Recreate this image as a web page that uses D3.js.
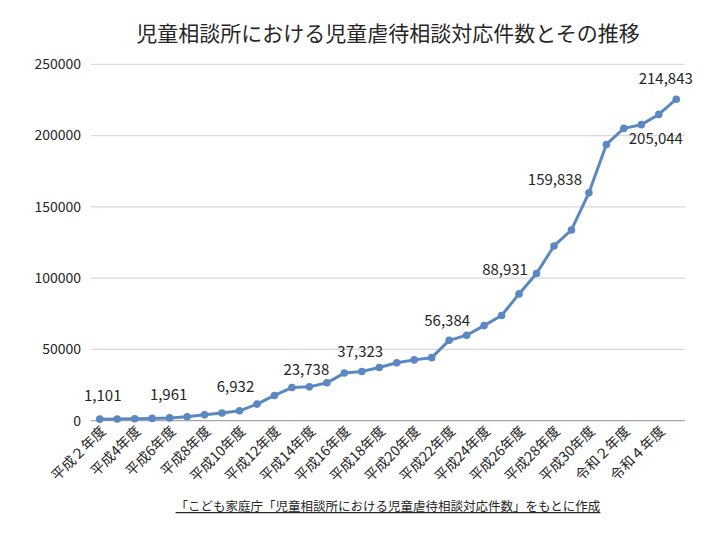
<!DOCTYPE html>
<html>
<head>
<meta charset="utf-8">
<script src="https://cdn.jsdelivr.net/npm/d3@7"></script>
<style>
  html, body { margin: 0; padding: 0; background: #fff; }
</style>
</head>
<body>
<div id="body"></div>
<script>
  // fiscal years, 平成2年度 .. 令和5年度
  var years = [
    "平成２年度", "平成3年度", "平成4年度", "平成5年度", "平成6年度", "平成7年度",
    "平成8年度", "平成9年度", "平成10年度", "平成11年度", "平成12年度", "平成13年度",
    "平成14年度", "平成15年度", "平成16年度", "平成17年度", "平成18年度", "平成19年度",
    "平成20年度", "平成21年度", "平成22年度", "平成23年度", "平成24年度", "平成25年度",
    "平成26年度", "平成27年度", "平成28年度", "平成29年度", "平成30年度", "令和元年度",
    "令和２年度", "令和３年度", "令和４年度", "令和５年度"
  ];

  var counts = [
    1101, 1171, 1372, 1611, 1961, 2722,
    4102, 5352, 6932, 11631, 17725, 23274,
    23738, 26569, 33408, 34472, 37323, 40639,
    42664, 44211, 56384, 59919, 66701, 73802,
    88931, 103286, 122575, 133778, 159838, 193780,
    205044, 207660, 214843, 225509
  ];

  // which points get a value label
  var labelledYears = [0, 4, 8, 12, 16, 20, 24, 28, 30, 32];

  var yTicks = [0, 50000, 100000, 150000, 200000, 250000];

  var title = "児童相談所における児童虐待相談対応件数とその推移";
  var source = "「こども家庭庁「児童相談所における児童虐待相談対応件数」をもとに作成";

  var width = 720;
  var height = 540;

  var lineColor = "#5b88c2";
  var gridColor = "#d9d9d9";
  var fontColor = "#262626";
  var font = "'Noto Sans CJK JP', 'Noto Sans', sans-serif";

  var svg = d3
    .select("#body")
    .append("svg")
    .attr("width", width)
    .attr("height", height)
    .style("font-family", font);

  var x = d3.scalePoint()
    .domain(d3.range(years.length))
    .range([91, 685])
    .padding(0.5);

  var y = d3.scaleLinear().domain([0, 250000]).range([420.7, 64.3]);

  // title
  svg.append("text")
    .attr("x", 388)
    .attr("y", 41)
    .attr("text-anchor", "middle")
    .attr("font-size", 21)
    .attr("fill", fontColor)
    .text(title);

  // gridlines
  svg.append("g")
    .selectAll("line")
    .data(yTicks)
    .enter()
    .append("line")
    .attr("x1", 91)
    .attr("x2", 685)
    .attr("y1", function (d) { return y(d); })
    .attr("y2", function (d) { return y(d); })
    .attr("stroke", function (d) { return d === 0 ? "#a6a6a6" : gridColor; })
    .attr("stroke-width", 1.2);

  // y axis labels
  svg.append("g")
    .selectAll("text")
    .data(yTicks)
    .enter()
    .append("text")
    .attr("x", 81)
    .attr("y", function (d) { return y(d); })
    .attr("dy", "0.35em")
    .attr("text-anchor", "end")
    .attr("font-size", 14)
    .attr("fill", fontColor)
    .text(function (d) { return d; });

  // x axis labels (every other year)
  svg.append("g")
    .selectAll("text")
    .data(years.filter(function (d, i) { return i % 2 === 0; }))
    .enter()
    .append("text")
    .attr("transform", function (d) {
      var i = years.indexOf(d);
      return "translate(" + (x(i) + 7) + "," + 432 + ") rotate(-45)";
    })
    .attr("text-anchor", "end")
    .attr("font-size", 14)
    .attr("fill", fontColor)
    .text(function (d) { return d; });

  // the line
  var line = d3.line()
    .x(function (d, i) { return x(i); })
    .y(function (d) { return y(d); });

  svg.append("path")
    .datum(counts)
    .attr("d", line)
    .attr("fill", "none")
    .attr("stroke", lineColor)
    .attr("stroke-width", 3)
    .attr("stroke-linejoin", "round");

  svg.append("g")
    .selectAll("circle")
    .data(counts)
    .enter()
    .append("circle")
    .attr("cx", function (d, i) { return x(i); })
    .attr("cy", function (d) { return y(d); })
    .attr("r", 3.8)
    .attr("fill", lineColor);

  // value labels, nudged off the line like in the original
  var nudge = {
    0: [3, -18], 4: [-1, -18], 8: [-4, -19], 12: [-3, -12], 16: [-19, -10],
    20: [-2, -14], 24: [-14, -19], 28: [-34, -8], 30: [32, 16], 32: [7, -30]
  };

  svg.append("g")
    .selectAll("text")
    .data(labelledYears)
    .enter()
    .append("text")
    .attr("x", function (i) { return x(i) + nudge[i][0]; })
    .attr("y", function (i) { return y(counts[i]) + nudge[i][1]; })
    .attr("text-anchor", "middle")
    .attr("font-size", 15)
    .attr("fill", fontColor)
    .text(function (i) { return d3.format(",")(counts[i]); });

  // source note
  var note = svg.append("text")
    .attr("x", 388)
    .attr("y", 511)
    .attr("text-anchor", "middle")
    .attr("font-size", 12.5)
    .attr("fill", fontColor)
    .style("text-decoration", "underline")
    .text(source);
</script>
</body>
</html>
